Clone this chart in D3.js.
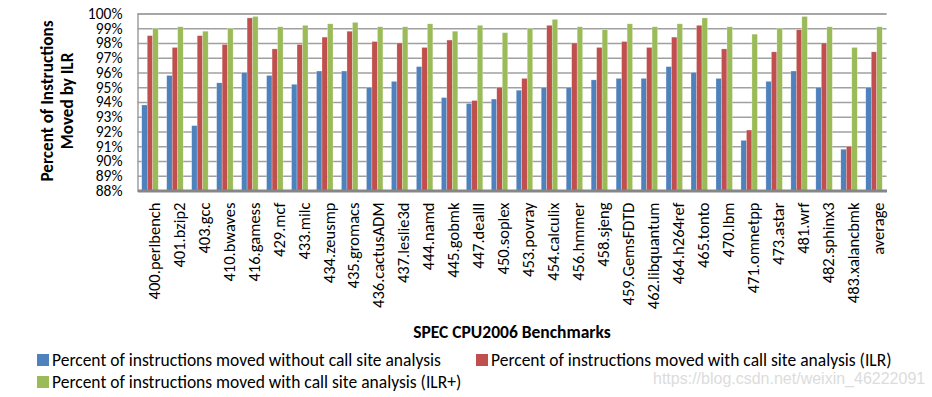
<!DOCTYPE html>
<html>
<head>
<meta charset="utf-8">
<script src="https://cdn.jsdelivr.net/npm/d3@7"></script>
<style>
  body { margin: 0; background: #fff; }
  svg { display: block; font-family: Carlito, Lato, sans-serif; }
</style>
</head>
<body>
<svg id="chart" width="932" height="397"></svg>
<script>
const benchmarks = ['400.perlbench', '401.bzip2', '403.gcc', '410.bwaves', '416.gamess', '429.mcf', '433.milc',
  '434.zeusmp', '435.gromacs', '436.cactusADM', '437.leslie3d', '444.namd', '445.gobmk', '447.dealII',
  '450.soplex', '453.povray', '454.calculix', '456.hmmer', '458.sjeng', '459.GemsFDTD', '462.libquantum',
  '464.h264ref', '465.tonto', '470.lbm', '471.omnetpp', '473.astar', '481.wrf', '482.sphinx3',
  '483.xalancbmk', 'average'];
// percent moved without call site analysis
const noCallSite = [93.8, 95.8, 92.4, 95.3, 96.0, 95.8, 95.2, 96.1, 96.1, 95.0, 95.4, 96.4, 94.3, 93.9,
  94.2, 94.8, 95.0, 95.0, 95.5, 95.6, 95.6, 96.4, 96.0, 95.6, 91.4, 95.4, 96.1, 95.0, 90.8, 95.0];
// with call site analysis (ILR)
const ilr = [98.5, 97.7, 98.5, 97.9, 99.7, 97.6, 97.9, 98.4, 98.8, 98.1, 98.0, 97.7, 98.2, 94.1,
  95.0, 95.6, 99.2, 98.0, 97.7, 98.1, 97.7, 98.4, 99.2, 97.6, 92.1, 97.4, 98.9, 98.0, 91.0, 97.4];
// with call site analysis (ILR+)
const ilrPlus = [99.0, 99.1, 98.8, 99.0, 99.8, 99.1, 99.2, 99.3, 99.4, 99.1, 99.1, 99.3, 98.8, 99.2,
  98.7, 99.0, 99.6, 99.1, 98.9, 99.3, 99.1, 99.3, 99.7, 99.1, 98.6, 99.0, 99.8, 99.1, 97.7, 99.1];
const yTicks = d3.range(88, 101, 1);
const seriesNames = ['Percent of instructions moved without call site analysis',
  'Percent of instructions moved with call site analysis (ILR)',
  'Percent of instructions moved with call site analysis (ILR+)'];
const colors = ['#4f81bd', '#c0504d', '#9bbb59'];

const svg = d3.select('#chart');
const conf = { left: 137.5, right: 886.5, top: 13.5, bottom: 190.5 };

const x0 = d3.scaleBand().domain(benchmarks).range([conf.left, conf.right])
  .paddingInner(0.34).paddingOuter(0.17);
const x1 = d3.scaleBand().domain([0, 1, 2]).range([0, x0.bandwidth()]);
const y = d3.scaleLinear().domain([88, 100]).range([conf.bottom, conf.top]);

// grid + y labels
const yAxis = svg.append('g')
  .attr('transform', 'translate(' + conf.left + ',0)')
  .call(d3.axisLeft(y).tickValues(yTicks).tickFormat(d => d + '%')
    .tickSize(-(conf.right - conf.left)).tickPadding(15));
yAxis.select('.domain').attr('stroke', '#a0a0a0').attr('stroke-width', 1.5);
yAxis.selectAll('.tick line').attr('stroke', '#a0a0a0').attr('stroke-width', 1.5);
yAxis.selectAll('.tick text').attr('font-size', 15.5).attr('fill', '#000')
  .attr('font-family', 'Carlito, Lato, sans-serif');

// bars
const rows = benchmarks.map((b, i) => ({ name: b, vals: [noCallSite[i], ilr[i], ilrPlus[i]] }));
const groups = svg.append('g').selectAll('g')
  .data(rows).enter().append('g')
  .attr('transform', d => 'translate(' + x0(d.name) + ',0)');
groups.selectAll('rect')
  .data(d => d.vals)
  .enter().append('rect')
  .attr('x', (d, i) => x1(i))
  .attr('width', x1.bandwidth())
  .attr('y', d => y(d))
  .attr('height', d => y(88) - y(d))
  .attr('fill', (d, i) => colors[i])
  .attr('stroke', 'rgba(255,255,255,0.5)')
  .attr('stroke-width', 0.5);

// bottom axis
const xAxis = svg.append('g')
  .attr('transform', 'translate(0,' + conf.bottom + ')')
  .call(d3.axisBottom(x0).tickSize(0).tickPadding(0));
xAxis.select('.domain').attr('stroke', '#868686').attr('stroke-width', 3);
xAxis.selectAll('.tick text')
  .attr('font-size', 16.5)
  .attr('font-family', 'Carlito, Lato, sans-serif')
  .attr('fill', '#000')
  .attr('text-anchor', 'end')
  .attr('transform', 'translate(4,12) rotate(-90)')
  .attr('x', 0).attr('y', 0).attr('dy', '0.35em');

// axis titles
svg.append('text')
  .attr('x', 512).attr('y', 338)
  .attr('text-anchor', 'middle')
  .attr('font-size', 17.5).attr('font-weight', 'bold')
  .text('SPEC CPU2006 Benchmarks');
const yTitle = svg.append('text')
  .attr('transform', 'translate(0,101) rotate(-90)')
  .attr('text-anchor', 'middle')
  .attr('font-size', 17.2).attr('font-weight', 'bold');
yTitle.append('tspan').attr('x', 0).attr('y', 53).text('Percent of Instructions');
yTitle.append('tspan').attr('x', 0).attr('y', 73).text('Moved by ILR');

// legend
const legendPos = [[37, 354], [476, 354], [37, 376]];
const legend = svg.append('g').selectAll('g')
  .data(seriesNames).enter().append('g')
  .attr('transform', (d, i) => 'translate(' + legendPos[i][0] + ',' + legendPos[i][1] + ')');
legend.append('rect')
  .attr('width', 12).attr('height', 12)
  .attr('fill', (d, i) => colors[i]);
legend.append('text')
  .attr('x', 15).attr('y', 12)
  .attr('font-size', 17.5)
  .text(d => d);

// watermark
svg.append('text')
  .attr('x', 653).attr('y', 384)
  .attr('font-family', 'Liberation Sans, Arial, sans-serif')
  .attr('font-size', 16)
  .attr('fill', '#dcdcdc')
  .text('https://blog.csdn.net/weixin_46222091');
</script>
</body>
</html>
